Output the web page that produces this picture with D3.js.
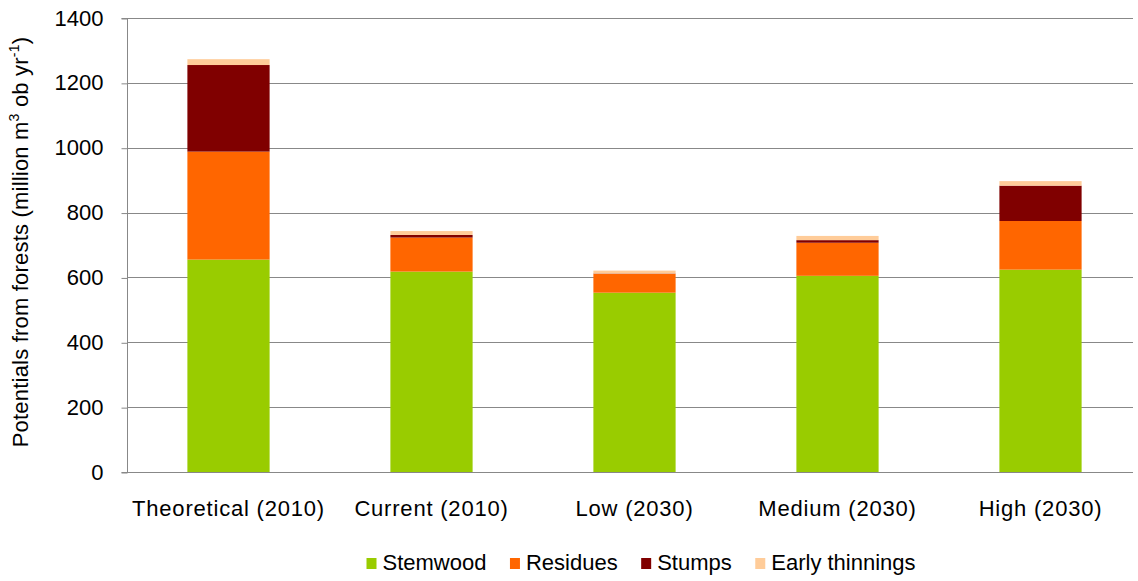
<!DOCTYPE html>
<html>
<head>
<meta charset="utf-8">
<script src="https://cdn.jsdelivr.net/npm/d3@7"></script>
<style>
  body { margin: 0; background: #fff; }
  svg { font-family: "Liberation Sans", Arial, sans-serif; }
</style>
</head>
<body>
<svg id="chart" width="1138" height="581"></svg>
<script>
const categories = ["Theoretical (2010)", "Current (2010)", "Low (2030)", "Medium (2030)", "High (2030)"];
const seriesNames = ["Stemwood", "Residues", "Stumps", "Early thinnings"];
const stemwood = [655, 618, 553, 605, 624];
const residues = [333, 105, 58, 102, 150];
const stumps = [267, 8, 1, 8, 109];
const earlyThinnings = [18, 12, 9, 13, 14];
const yTicks = [0, 200, 400, 600, 800, 1000, 1200, 1400];

const colors = {
  "Stemwood": "#99cc00",
  "Residues": "#ff6600",
  "Stumps": "#800000",
  "Early thinnings": "#ffcc99"
};

const data = categories.map((c, i) => ({
  cat: c,
  "Stemwood": stemwood[i],
  "Residues": residues[i],
  "Stumps": stumps[i],
  "Early thinnings": earlyThinnings[i]
}));

const margin = { top: 18, left: 127 };
const height = 454;
const bandWidth = 1015;   // full category band, the picture is cut at the right
const visibleWidth = 1006;

const svg = d3.select("#chart");
const g = svg.append("g").attr("transform", `translate(${margin.left},${margin.top})`);

const x = d3.scaleBand().domain(categories).range([0, bandWidth]).padding(0);
const barW = x.bandwidth() * 0.405;
const y = d3.scaleLinear().domain([0, 1400]).range([height, 0]);

// gridlines
g.append("g")
  .selectAll("line")
  .data(yTicks.filter(d => d > 0))
  .enter()
  .append("line")
  .attr("x1", 0)
  .attr("x2", visibleWidth)
  .attr("y1", d => Math.round(y(d)) + 0.5)
  .attr("y2", d => Math.round(y(d)) + 0.5)
  .attr("stroke", "#888888")
  .attr("stroke-width", 1);

const layers = d3.stack().keys(seriesNames)(data);

g.selectAll("g.layer")
  .data(layers)
  .enter()
  .append("g")
  .attr("class", "layer")
  .attr("fill", d => colors[d.key])
  .selectAll("rect")
  .data(d => d)
  .enter()
  .append("rect")
  .attr("x", d => x(d.data.cat) + (x.bandwidth() - barW) / 2)
  .attr("width", barW)
  .attr("y", d => y(d[1]))
  .attr("height", d => y(d[0]) - y(d[1]));

// y axis
const yAxis = d3.axisLeft(y).tickValues(yTicks).tickFormat(d3.format("d")).tickSize(6).tickPadding(18);
const yg = g.append("g").attr("transform", "translate(0.5,0)").call(yAxis);
yg.select(".domain").attr("stroke", "#888888").attr("d", `M-6,${Math.round(y(1400)) + 0.5}H0V${height + 0.5}H-6`);
yg.selectAll(".tick line").attr("stroke", "#888888").attr("transform", "translate(0,0.5)");
yg.selectAll(".tick text").attr("font-size", 22).attr("fill", "#000").attr("font-family", "Liberation Sans, Arial, sans-serif");

// x axis
const xAxis = d3.axisBottom(x).tickSize(0).tickPadding(28);
const xg = g.append("g").attr("transform", `translate(0,${height + 0.5})`).call(xAxis);
xg.select(".domain").attr("stroke", "#888888").attr("d", `M0,0H${visibleWidth}`);
xg.selectAll(".tick text")
  .attr("font-size", 22)
  .attr("letter-spacing", "0.8px")
  .attr("fill", "#000")
  .attr("font-family", "Liberation Sans, Arial, sans-serif");

// y title
const title = svg.append("text")
  .attr("transform", `translate(28,${margin.top + 224}) rotate(-90)`)
  .attr("text-anchor", "middle")
  .attr("font-size", 22)
  .attr("letter-spacing", "0.2px")
  .attr("fill", "#000");
title.append("tspan").text("Potentials from forests (million m");
title.append("tspan").attr("font-size", 14).attr("dy", -9).text("3");
title.append("tspan").attr("dy", 9).text(" ob yr");
title.append("tspan").attr("font-size", 14).attr("dy", -9).text("-1");
title.append("tspan").attr("dy", 9).text(")");

// legend
const legend = svg.append("g").attr("transform", "translate(0,570)");
let lx = 366.5;
seriesNames.forEach((name) => {
  const item = legend.append("g").attr("transform", `translate(${lx},0)`);
  item.append("rect").attr("x", 0).attr("y", -12).attr("width", 10).attr("height", 11).attr("fill", colors[name]);
  const t = item.append("text").attr("x", 16).attr("y", 0).attr("font-size", 22).attr("fill", "#000").text(name);
  lx += 16 + t.node().getComputedTextLength() + 23.5;
});
</script>
</body>
</html>
